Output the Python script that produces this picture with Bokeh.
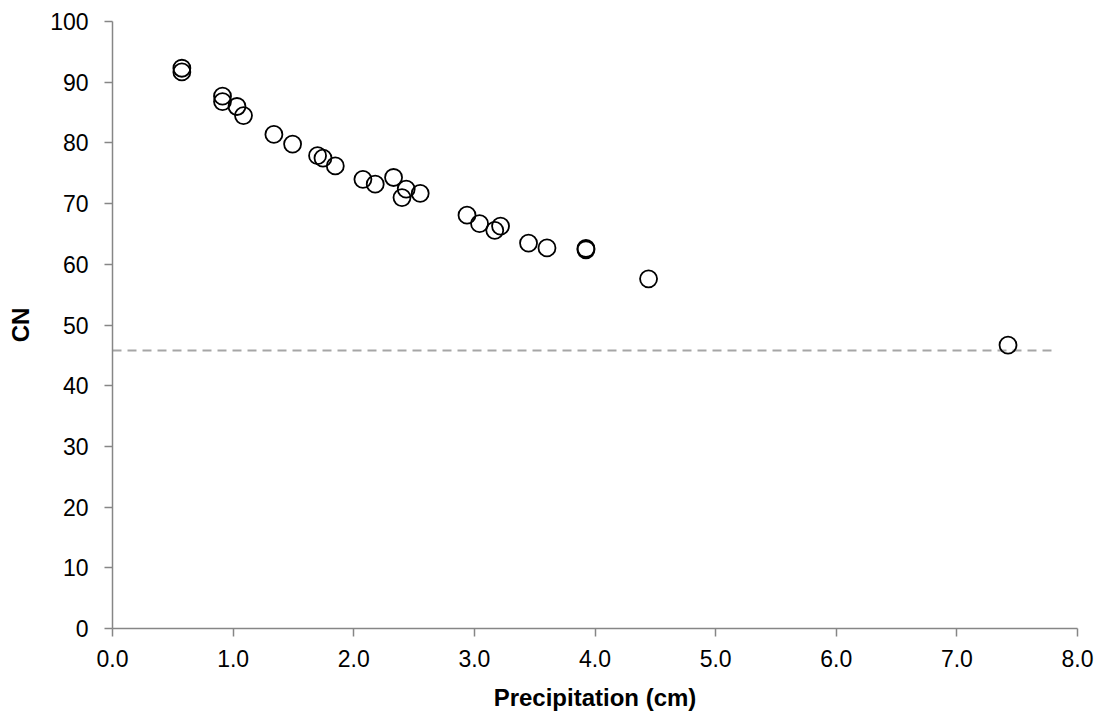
from bokeh.plotting import figure
from bokeh.models import Range1d, FixedTicker, NumeralTickFormatter, ColumnDataSource
from bokeh.embed import file_html
from bokeh.resources import INLINE

# Data
precip_cm = [0.575, 0.575, 0.912, 0.912, 1.032, 1.086, 1.338, 1.493, 1.700, 1.745, 1.847,
             2.076, 2.178, 2.330, 2.435, 2.400, 2.551, 2.939, 3.043, 3.169, 3.217,
             3.449, 3.602, 3.925, 3.925, 4.444, 7.424]
cn = [92.3, 91.7, 87.7, 86.8, 86.0, 84.5, 81.4, 79.8, 77.9, 77.5, 76.2,
      74.0, 73.2, 74.3, 72.4, 71.0, 71.7, 68.1, 66.7, 65.6, 66.3,
      63.5, 62.7, 62.6, 62.4, 57.6, 46.7]
asymptote_x = [0.0, 7.79]
asymptote_cn = [45.8, 45.8]
x_ticks = [0, 1, 2, 3, 4, 5, 6, 7, 8]
y_ticks = [0, 10, 20, 30, 40, 50, 60, 70, 80, 90, 100]

FONT = "Liberation Sans"
AXIS_GREY = "#868686"

p = figure(width=1105, height=721, output_backend="svg", toolbar_location=None,
           x_range=Range1d(0, 8), y_range=Range1d(0, 100),
           min_border_left=112, min_border_right=28, min_border_top=21, min_border_bottom=93)
p.outline_line_color = None
p.xgrid.visible = False
p.ygrid.visible = False
p.background_fill_color = "white"
p.border_fill_color = "white"

p.line(asymptote_x, asymptote_cn, line_color="#A6A6A6", line_width=2, line_dash="9 6")

src = ColumnDataSource(dict(x=precip_cm, y=cn))
p.scatter("x", "y", source=src, marker="circle", size=17, fill_color=None,
          line_color="black", line_width=1.8)

for ax in (p.xaxis[0], p.yaxis[0]):
    ax.axis_line_color = AXIS_GREY
    ax.axis_line_width = 1.5
    ax.major_tick_line_color = AXIS_GREY
    ax.major_tick_line_width = 1.5
    ax.minor_tick_line_color = None
    ax.major_tick_in = 0
    ax.major_tick_out = 8
    ax.major_label_text_font = FONT
    ax.major_label_text_font_size = "23px"
    ax.major_label_text_color = "black"
    ax.axis_label_text_font = FONT
    ax.axis_label_text_font_size = "24px"
    ax.axis_label_text_font_style = "bold"
    ax.axis_label_text_color = "black"

p.xaxis.ticker = FixedTicker(ticks=x_ticks)
p.xaxis.formatter = NumeralTickFormatter(format="0.0")
p.xaxis.axis_label = "Precipitation (cm)"
p.xaxis.major_label_standoff = 13
p.xaxis.axis_label_standoff = 14

p.yaxis.ticker = FixedTicker(ticks=y_ticks)
p.yaxis.formatter = NumeralTickFormatter(format="0")
p.yaxis.axis_label = "CN"
p.yaxis.major_label_standoff = 16
p.yaxis.axis_label_standoff = 13

open("out.html", "w").write(file_html(p, INLINE))
